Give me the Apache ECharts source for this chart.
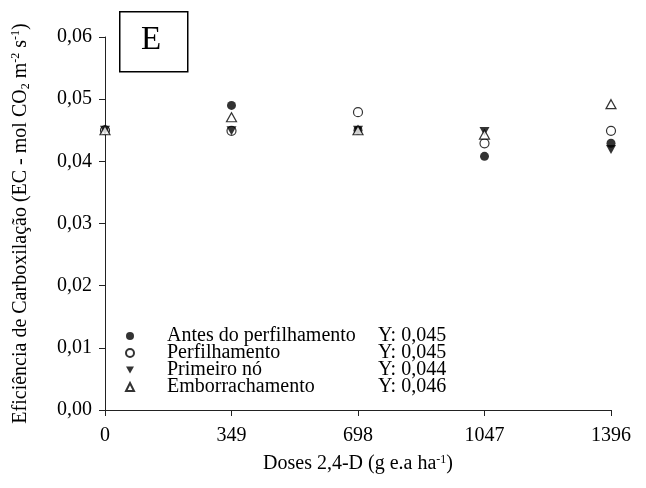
<!DOCTYPE html>
<html>
<head>
<meta charset="utf-8">
<script src="https://cdn.jsdelivr.net/npm/echarts@6/dist/echarts.min.js"></script>
<style>
  html, body { margin: 0; padding: 0; background: #fff; }
  #chart { width: 646px; height: 488px; }
</style>
</head>
<body>
<div id="chart"></div>
<script>
// doses de 2,4-D e eficiência de carboxilação por estádio
const doses = [0, 349, 698, 1047, 1396];
const antes = [0.045, 0.049, 0.045, 0.0408, 0.0429];
const perfilhamento = [0.045, 0.0449, 0.0479, 0.0429, 0.0449];
const primeiroNo = [0.045, 0.0449, 0.045, 0.0448, 0.0419];
const emborrachamento = [0.045, 0.0471, 0.045, 0.0443, 0.0492];
const seriesNames = ['Antes do perfilhamento', 'Perfilhamento', 'Primeiro nó', 'Emborrachamento'];
const mediaY = ['Y: 0,045', 'Y: 0,045', 'Y: 0,044', 'Y: 0,046'];
const yTicks = { min: 0, max: 0.06, interval: 0.01 };
const xTicks = { min: 0, max: 1396, interval: 349 };

const font = 'Liberation Serif, Times New Roman, serif';
const downTri = 'path://M0,0 L10,0 L5,9 Z';

function pts(vals) {
  return doses.map((d, i) => [d, vals[i]]);
}

const chart = echarts.init(document.getElementById('chart'));

const option = {
  animation: false,
  grid: { left: 105, right: 35, top: 37, bottom: 78, outerBoundsMode: 'none', containLabel: false },
  xAxis: {
    type: 'value',
    min: xTicks.min,
    max: xTicks.max,
    interval: xTicks.interval,
    name: '{t|Doses 2,4-D (g e.a ha}{s|-1}{t|)}',
    nameLocation: 'middle',
    nameGap: 44,
    nameTextStyle: {
      rich: {
        t: { fontFamily: font, fontSize: 20, color: '#000', verticalAlign: 'bottom' },
        s: { fontFamily: font, fontSize: 12, color: '#000', verticalAlign: 'top', padding: [0, 0, 8, 0] }
      }
    },
    axisLine: { lineStyle: { color: '#222', width: 1 } },
    axisTick: { inside: false, length: 6, lineStyle: { color: '#222' } },
    axisLabel: { fontFamily: font, fontSize: 20, color: '#000', margin: 16, formatter: v => String(v) },
    splitLine: { show: false }
  },
  yAxis: {
    type: 'value',
    min: yTicks.min,
    max: yTicks.max,
    interval: yTicks.interval,
    name: '{t|Eficiência de Carboxilação (EC - mol CO}{b|2}{t| m}{s|-2}{t| s}{s|-1}{t|)}',
    nameLocation: 'middle',
    nameGap: 73,
    nameRotate: 90,
    nameTextStyle: {
      rich: {
        t: { fontFamily: font, fontSize: 20, color: '#000' },
        b: { fontFamily: font, fontSize: 12, color: '#000', padding: [10, 0, 0, 0] },
        s: { fontFamily: font, fontSize: 12, color: '#000', padding: [0, 0, 10, 0] }
      }
    },
    axisLine: { show: true, lineStyle: { color: '#222', width: 1 } },
    axisTick: { show: true, inside: false, length: 6, lineStyle: { color: '#222' } },
    axisLabel: {
      fontFamily: font, fontSize: 20, color: '#000', margin: 13,
      formatter: v => v.toFixed(2).replace('.', ',')
    },
    splitLine: { show: false }
  },
  legend: {
    orient: 'vertical',
    left: 120,
    top: 321,
    itemWidth: 8,
    itemHeight: 8,
    itemGap: -3,
    data: seriesNames,
    formatter: name => {
      const i = seriesNames.indexOf(name);
      return '{a|' + name + '}{b|' + mediaY[i] + '}';
    },
    textStyle: {
      fontFamily: font,
      fontSize: 20,
      rich: {
        a: { fontFamily: font, fontSize: 20, color: '#000', width: 211, padding: [0, 0, 0, 28] },
        b: { fontFamily: font, fontSize: 20, color: '#000' }
      }
    }
  },
  graphic: [
    {
      type: 'rect',
      left: 119, top: 11,
      shape: { width: 68, height: 60 },
      style: { fill: '#fff', stroke: '#000', lineWidth: 1.5 }
    },
    {
      type: 'text',
      left: 141, top: 24,
      style: { text: 'E', fontFamily: font, fontSize: 33, fill: '#000' }
    }
  ],
  series: [
    {
      name: seriesNames[0], type: 'scatter', data: pts(antes),
      symbol: 'circle', symbolSize: 9,
      itemStyle: { color: '#000' }
    },
    {
      name: seriesNames[1], type: 'scatter', data: pts(perfilhamento),
      symbol: 'circle', symbolSize: 9,
      itemStyle: { color: '#fff', borderColor: '#000', borderWidth: 1.2 }
    },
    {
      name: seriesNames[2], type: 'scatter', data: pts(primeiroNo),
      symbol: downTri, symbolSize: [10, 9],
      itemStyle: { color: '#000' }
    },
    {
      name: seriesNames[3], type: 'scatter', data: pts(emborrachamento),
      symbol: 'triangle', symbolSize: [10, 9],
      itemStyle: { color: '#fff', borderColor: '#000', borderWidth: 1.2 }
    }
  ]
};

chart.setOption(option);
</script>
</body>
</html>
